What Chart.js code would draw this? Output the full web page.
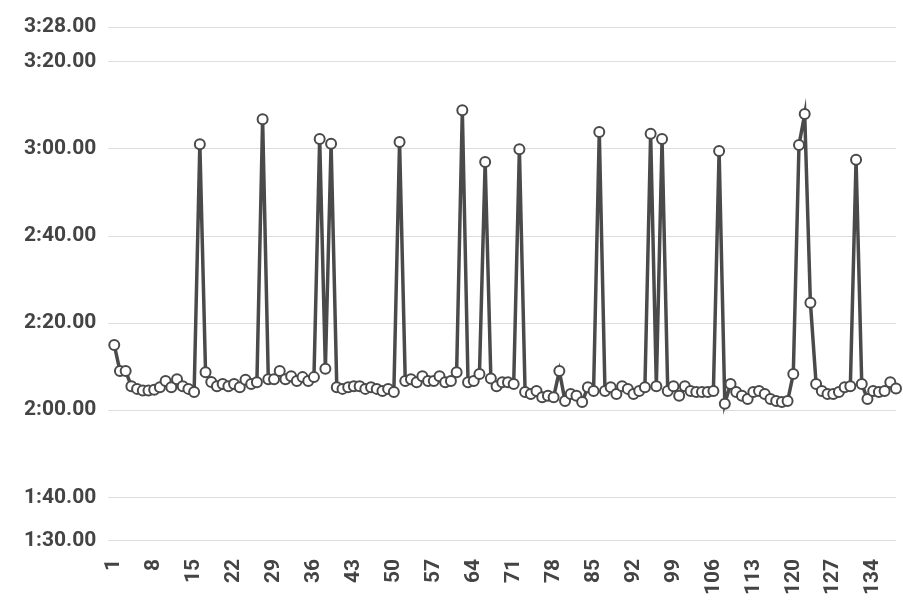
<!DOCTYPE html>
<html>
<head>
<meta charset="utf-8">
<script src="https://cdn.jsdelivr.net/npm/chart.js@4.4.1/dist/chart.umd.min.js"></script>
<style>
  html, body { margin: 0; padding: 0; background: #fff; overflow: hidden; }
  #wrap { width: 903px; height: 615px; }
</style>
</head>
<body>
<div id="wrap"><canvas id="lapChart"></canvas></div>
<script>
// lap numbers along the x axis
const lapNumbers = [
  1, 2, 3, 4, 5, 6, 7, 8, 9, 10, 11, 12, 13, 14, 15, 16, 17, 18, 19, 20,
  21, 22, 23, 24, 25, 26, 27, 28, 29, 30, 31, 32, 33, 34, 35, 36, 37, 38, 39, 40,
  41, 42, 43, 44, 45, 46, 47, 48, 49, 50, 51, 52, 53, 54, 55, 56, 57, 58, 59, 60,
  61, 62, 63, 64, 65, 66, 67, 68, 69, 70, 71, 72, 73, 74, 75, 76, 77, 78, 79, 80,
  81, 82, 83, 84, 85, 86, 87, 88, 89, 90, 91, 92, 93, 94, 95, 96, 97, 98, 99, 100,
  101, 102, 103, 104, 105, 106, 107, 108, 109, 110, 111, 112, 113, 114, 115, 116, 117, 118, 119, 120,
  121, 122, 123, 124, 125, 126, 127, 128, 129, 130, 131, 132, 133, 134, 135, 136, 137, 138
];

// lap times in seconds
const lapSeconds = [
  135, 129, 129, 125.5, 124.9, 124.5, 124.5, 124.7, 125.3, 126.7,
  125.3, 127.1, 125.5, 124.9, 124.2, 181.1, 128.7, 126.5, 125.5, 126,
  125.5, 126, 125.3, 127, 126, 126.4, 186.8, 127.1, 127.1, 129,
  127.1, 127.8, 126.7, 127.6, 126.7, 127.6, 182.3, 129.5, 181.2, 125.3,
  124.9, 125.3, 125.5, 125.5, 124.9, 125.3, 124.9, 124.4, 124.9, 124.2,
  181.6, 126.7, 127.1, 126.4, 127.8, 126.7, 126.7, 127.8, 126.4, 126.7,
  128.7, 188.9, 126.4, 126.7, 128.3, 177, 127.3, 125.5, 126.4, 126.4,
  126, 179.9, 124.2, 123.7, 124.4, 123, 123.3, 123, 129, 122.1,
  123.7, 123.3, 121.9, 125.3, 124.4, 183.9, 124.4, 125.3, 123.7, 125.5,
  124.9, 123.7, 124.4, 125.3, 183.5, 125.5, 182.3, 124.4, 125.5, 123.3,
  125.5, 124.4, 124.2, 124.2, 124.2, 124.4, 179.5, 121.5, 126, 124.2,
  123.3, 122.6, 124.2, 124.4, 123.7, 122.6, 122.1, 121.9, 122.1, 128.3,
  180.9, 188, 144.7, 126, 124.4, 123.7, 123.7, 124.2, 125.3, 125.5,
  177.5, 126, 122.6, 124.4, 124.2, 124.4, 126.4, 125
];

// laps that get a label on the x axis
const xTickLaps = [1, 8, 15, 22, 29, 36, 43, 50, 57, 64, 71, 78, 85, 92, 99, 106, 113, 120, 127, 134];

// y axis ticks, in seconds
const yTickSeconds = [90, 100, 120, 140, 160, 180, 200, 208];

const inkColor = '#444444';
const labelFont = { family: 'Roboto', size: 21, weight: 'bold' };

function formatLapTime(sec) {
    const m = Math.floor(sec / 60);
    const s = Math.round(sec - m * 60);
    return m + ':' + String(s).padStart(2, '0') + '.00';
}

const ctx = document.getElementById('lapChart').getContext('2d');

new Chart(ctx, {
    type: 'line',
    data: {
        labels: lapNumbers,
        datasets: [{
            data: lapSeconds,
            borderColor: '#4a4a4a',
            borderWidth: 3.5,
            tension: 0,
            pointRadius: 5,
            pointBorderWidth: 2,
            pointBorderColor: '#4a4a4a',
            pointBackgroundColor: '#ffffff'
        }]
    },
    options: {
        responsive: true,
        maintainAspectRatio: false,
        animation: false,
        layout: {
            padding: { top: 27, left: 12, right: 0, bottom: 2 }
        },
        plugins: {
            legend: { display: false },
            tooltip: { enabled: false }
        },
        scales: {
            x: {
                grid: { display: false, drawTicks: false },
                border: { display: false },
                afterFit: (scale) => { scale.paddingRight = 0; },
                ticks: {
                    autoSkip: false,
                    minRotation: 90,
                    maxRotation: 90,
                    padding: 18,
                    color: inkColor,
                    font: labelFont,
                    callback: function (value, index) {
                        const lap = lapNumbers[index];
                        return xTickLaps.includes(lap) ? String(lap) : '';
                    }
                }
            },
            y: {
                min: 90,
                max: 208,
                grid: { color: '#dddddd', lineWidth: 1, tickLength: 6 },
                border: { display: false },
                afterBuildTicks: (scale) => {
                    scale.ticks = yTickSeconds.map(v => ({ value: v }));
                },
                ticks: {
                    padding: 12,
                    color: inkColor,
                    font: labelFont,
                    callback: (value) => formatLapTime(value)
                }
            }
        }
    }
});
</script>
</body>
</html>
